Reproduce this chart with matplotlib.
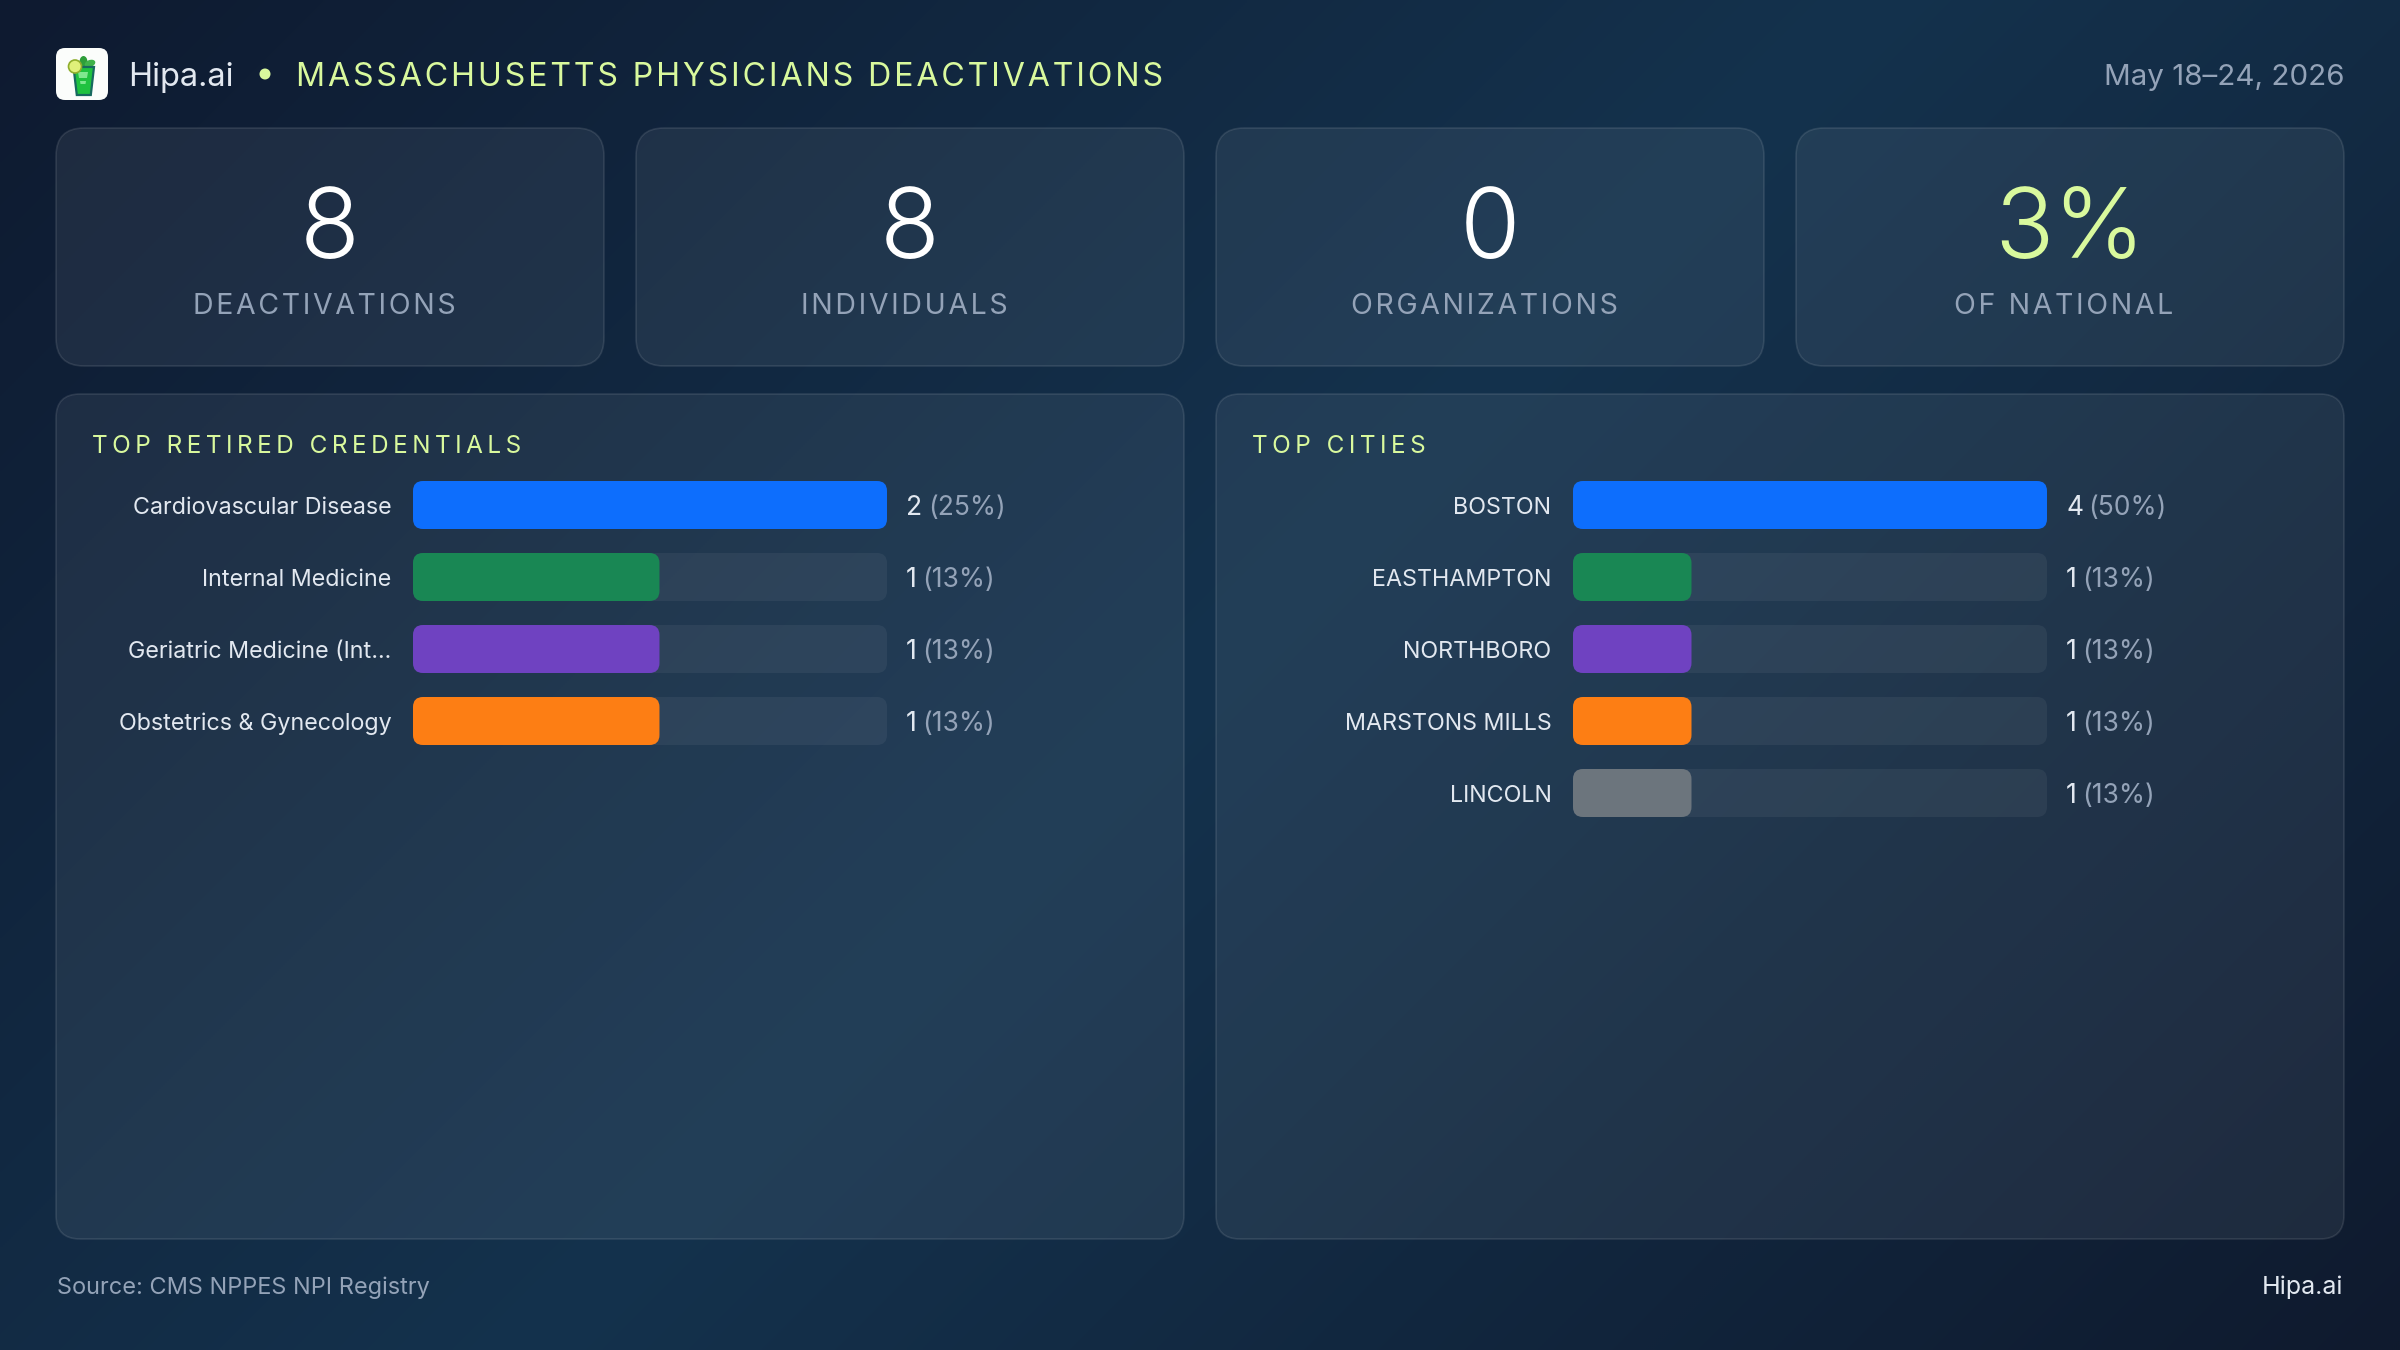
import matplotlib
matplotlib.use("Agg")
import numpy as np
import matplotlib.pyplot as plt
from matplotlib.colors import LinearSegmentedColormap
from matplotlib.patches import FancyBboxPatch, Polygon, Circle, Ellipse
from matplotlib.transforms import Affine2D

# ---- dashboard content ----
brand = "Hipa.ai"
headline = "MASSACHUSETTS PHYSICIANS DEACTIVATIONS"
date_range = "May 18–24, 2026"
source_note = "Source: CMS NPPES NPI Registry"

kpi_values = ["8", "8", "0", "3%"]
kpi_names = ["DEACTIVATIONS", "INDIVIDUALS", "ORGANIZATIONS", "OF NATIONAL"]

credential_title = "TOP RETIRED CREDENTIALS"
credentials = ["Cardiovascular Disease", "Internal Medicine",
               "Geriatric Medicine (Int…", "Obstetrics & Gynecology"]
credential_counts = [2, 1, 1, 1]
credential_shares = [25, 13, 13, 13]

city_title = "TOP CITIES"
cities = ["BOSTON", "EASTHAMPTON", "NORTHBORO", "MARSTONS MILLS", "LINCOLN"]
city_counts = [4, 1, 1, 1, 1]
city_shares = [50, 13, 13, 13, 13]

bar_colors = ["#0d6efd", "#198754", "#6f42c1", "#fd7e14", "#6c757d"]

# ---- palette ----
LIME = "#d9f99d"
SOFT_WHITE = "#e2e8f0"
MUTED = "#94a3b8"
W, H = 2400, 1350
HAIR = "\u200a"

plt.rcParams["font.family"] = ["Inter", "DejaVu Sans"]


def px(size):
    """Font size in points for a size given in pixels at 100 dpi."""
    return size * 0.72


def tracked(text, gaps=1):
    """Open up letter spacing with hair spaces between the characters."""
    return (HAIR * gaps).join(text)


fig = plt.figure(figsize=(W / 100, H / 100), dpi=100)
page = fig.add_axes([0, 0, 1, 1])
page.set_xlim(0, W)
page.set_ylim(H, 0)
page.axis("off")

# diagonal page background
yy, xx = np.mgrid[0:H:2, 0:W:2]
ramp = 0.5 + ((xx - W / 2) + (yy - H / 2)) / (W + H)
bg_cmap = LinearSegmentedColormap.from_list(
    "page", [(0, "#0e1a30"), (0.5, "#14324d"), (1, "#0f1a2e")])
page.imshow(ramp, cmap=bg_cmap, vmin=0, vmax=1, extent=(0, W, H, 0),
            aspect="auto", interpolation="bilinear", zorder=0)


def glass_box(x0, y0, x1, y1, radius):
    page.add_patch(FancyBboxPatch(
        (x0, y0), x1 - x0, y1 - y0,
        boxstyle=f"round,pad=0,rounding_size={radius}",
        facecolor=(1, 1, 1, 0.065), edgecolor=(1, 1, 1, 0.10),
        linewidth=1.2, zorder=1))


# ---- header ----
page.add_patch(FancyBboxPatch((56, 48), 52, 52,
                              boxstyle="round,pad=0,rounding_size=9",
                              facecolor="#fbfdfb", edgecolor="none", zorder=2))
page.add_patch(Ellipse((83.5, 62), 8, 12, facecolor="#2e9e3a", zorder=3))
page.add_patch(Ellipse((90, 63.5), 11, 7, angle=-20, facecolor="#3fb24a", zorder=3))
page.add_patch(Polygon([(73.5, 67), (94, 67), (90.8, 95), (76.8, 95)],
                       facecolor="#1fc23f", edgecolor="#17695f", linewidth=1.6, zorder=3))
page.add_patch(Polygon([(78, 72), (88, 72), (87, 78), (79, 78)],
                       facecolor="#7fe88f", edgecolor="none", zorder=4))
page.add_patch(Polygon([(80, 81), (86, 81), (85.5, 84), (80.5, 84)],
                       facecolor="#7fe88f", edgecolor="none", zorder=4))
page.add_patch(Circle((75, 66.5), 6.5, facecolor="#dff07a", edgecolor="#8fae2c",
                      linewidth=1.2, zorder=5))

page.text(128, 86, brand, color=SOFT_WHITE, fontsize=px(32.5), va="baseline", zorder=6)
page.add_patch(Circle((265, 74), 5.5, facecolor=LIME, edgecolor="none", zorder=6))
page.text(296, 86, tracked(headline), color=LIME, fontsize=px(32.15), va="baseline", zorder=6)
page.text(2344, 85, date_range, color=MUTED, fontsize=px(29.6), ha="right", va="baseline", zorder=6)

# ---- KPI cards ----
card_lefts = [56, 636, 1216, 1796]
card_width = 548
for left, value, name in zip(card_lefts, kpi_values, kpi_names):
    glass_box(left, 128, left + card_width, 366, 28)
    center = left + card_width / 2
    page.text(center, 258, value, color=LIME if "%" in value else "white",
              fontsize=px(98), fontweight=300, ha="center", va="baseline", zorder=6)
    page.text(center - 6, 314, tracked(name), color=MUTED, fontsize=px(28.5),
              ha="center", va="baseline", zorder=6)


# ---- ranked bar panels ----
ROW = 72
BAR = 48
TRACK_W = 474
RADIUS = 10


def bar_panel(panel_left, title_x, track_left, title, names, counts, shares, lengths, scale_max):
    glass_box(panel_left, 394, panel_left + 1128, 1239, 24)
    page.text(title_x, 453, tracked(title, 2), color=LIME, fontsize=px(24.3),
              va="baseline", zorder=6)

    n = len(names)
    ax = fig.add_axes([track_left / W, 1 - (469 + ROW * n) / H,
                       TRACK_W / W, ROW * n / H])
    ax.patch.set_visible(False)
    ax.set_xlim(0, scale_max)
    ax.set_ylim(n - 0.5, -0.5)
    for side in ax.spines.values():
        side.set_visible(False)
    ax.set_xticks([])
    ax.set_yticks(range(n), names, color=SOFT_WHITE, fontsize=px(23.3), va="baseline")
    ax.tick_params(axis="y", length=0, pad=15.5)
    for tick in ax.get_yticklabels():
        tick.set_transform(tick.get_transform() + Affine2D().translate(0, -9))

    # corner radius in data units, with the y squeeze that keeps corners round
    per_px_x = scale_max / TRACK_W
    per_px_y = 1 / ROW
    rounding = RADIUS * per_px_x
    squeeze = per_px_y / per_px_x
    height = BAR / ROW
    for i, length in enumerate(lengths):
        ax.add_patch(FancyBboxPatch(
            (0, i - height / 2), scale_max, height,
            boxstyle=f"round,pad=0,rounding_size={rounding}",
            mutation_aspect=squeeze, facecolor=(1, 1, 1, 0.055),
            edgecolor="none", zorder=1))
        ax.add_patch(FancyBboxPatch(
            (0, i - height / 2), length, height,
            boxstyle=f"round,pad=0,rounding_size={rounding}",
            mutation_aspect=squeeze, facecolor=bar_colors[i],
            edgecolor="none", zorder=2))
        count_text = ax.annotate(
            str(counts[i]), xy=(scale_max, i), xytext=(19, -10), textcoords="offset pixels",
            color=SOFT_WHITE, fontsize=px(26.5), va="baseline", annotation_clip=False)
        ax.annotate(
            f"({shares[i]}%)", xy=(1, 0), xycoords=count_text, xytext=(5.5, 0),
            textcoords="offset pixels", color=MUTED, fontsize=px(26.5), va="bottom",
            annotation_clip=False)


# credential bars scale on the share, city bars on the count
bar_panel(56, 92, 413, credential_title, credentials, credential_counts,
          credential_shares, credential_shares, max(credential_shares))
bar_panel(1216, 1252, 1573, city_title, cities, city_counts,
          city_shares, city_counts, max(city_counts))

# ---- footer ----
page.text(57, 1294, source_note, color=MUTED, fontsize=px(23.5), va="baseline", zorder=6)
page.text(2343, 1294, brand, color=SOFT_WHITE, fontsize=px(25), ha="right", va="baseline", zorder=6)

fig.savefig("out.png", dpi=100)
